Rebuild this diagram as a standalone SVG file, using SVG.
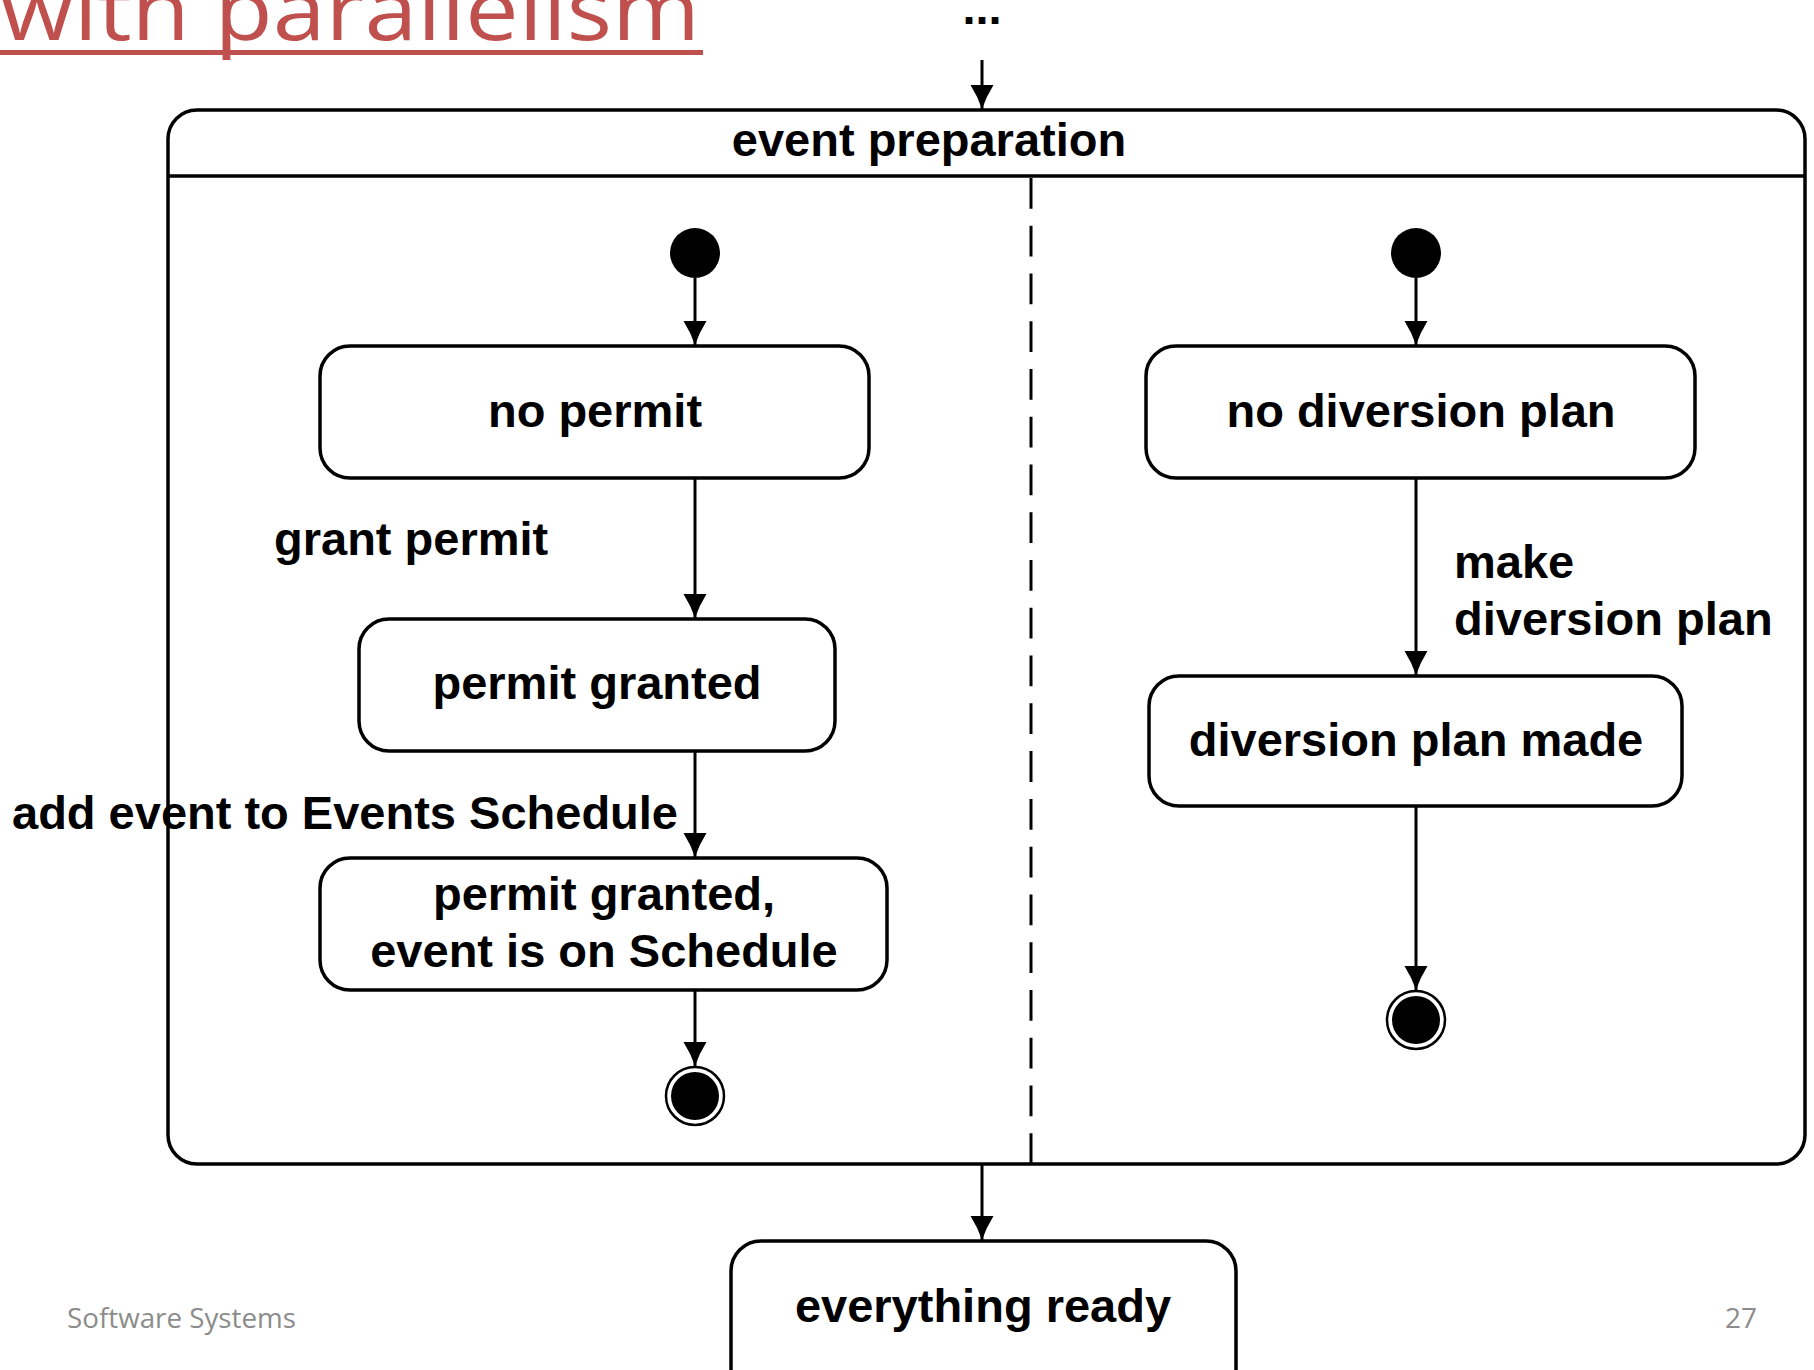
<svg xmlns="http://www.w3.org/2000/svg" width="1814" height="1370" viewBox="0 0 1814 1370">
  <style>
    .state { fill: #ffffff; stroke: #000000; stroke-width: 3.5; }
    .lbl { font-family: "Liberation Sans", Arial, sans-serif; font-weight: bold; font-size: 47px; fill: #000000; }
    .mid { text-anchor: middle; }
    .edge { stroke: #000000; stroke-width: 3; fill: none; marker-end: url(#arrow); }
    .foot { font-family: "Open Sans", "Liberation Sans", sans-serif; font-size: 28px; fill: #8c8c8c; }
  </style>
  <defs>
    <marker id="arrow" markerUnits="userSpaceOnUse" viewBox="0 -13 25 26" markerWidth="25" markerHeight="26" refX="24" refY="0" orient="auto">
      <path d="M0,-11.5 Q12,-4 24,0 Q12,4 0,11.5 z" fill="#000000"/>
    </marker>
  </defs>

  <rect width="1814" height="1370" fill="#ffffff"/>

  <!-- slide title (partly above the page edge) -->
  <g id="title">
    <text x="0" y="40" font-family="Open Sans, Liberation Sans, sans-serif" font-size="84" fill="#C0504D" textLength="700" lengthAdjust="spacingAndGlyphs">with parallelism</text>
    <rect x="0" y="50" width="703" height="5" fill="#C0504D"/>
  </g>

  <!-- incoming ellipsis -->
  <g id="ellipsis">
    <text class="lbl mid" x="982" y="24">...</text>
  </g>

  <!-- composite state with two concurrent regions -->
  <g id="event-preparation">
    <rect class="state" x="168" y="110" width="1637" height="1054" rx="29" ry="29"/>
    <line x1="168" y1="176" x2="1805" y2="176" stroke="#000000" stroke-width="3.5"/>
    <text class="lbl mid" x="929" y="156">event preparation</text>
    <line x1="1031" y1="178" x2="1031" y2="1164" stroke="#000000" stroke-width="3" stroke-dasharray="30.76 17"/>
  </g>

  <!-- left region -->
  <g id="left-initial">
    <circle cx="695" cy="253" r="25" fill="#000000"/>
  </g>
  <g id="no-permit">
    <rect class="state" x="320" y="346" width="549" height="132" rx="30" ry="30"/>
    <text class="lbl mid" x="595" y="427">no permit</text>
  </g>
  <g id="permit-granted">
    <rect class="state" x="359" y="619" width="476" height="132" rx="30" ry="30"/>
    <text class="lbl mid" x="597" y="699">permit granted</text>
  </g>
  <g id="permit-on-schedule">
    <rect class="state" x="320" y="858" width="567" height="132" rx="30" ry="30"/>
    <text class="lbl mid" x="604" y="910">permit granted,</text>
    <text class="lbl mid" x="604" y="967">event is on Schedule</text>
  </g>
  <g id="left-final">
    <circle cx="695" cy="1096" r="29" fill="#ffffff" stroke="#000000" stroke-width="2.5"/>
    <circle cx="695" cy="1096" r="24" fill="#000000"/>
  </g>

  <!-- right region -->
  <g id="right-initial">
    <circle cx="1416" cy="253" r="25" fill="#000000"/>
  </g>
  <g id="no-diversion-plan">
    <rect class="state" x="1146" y="346" width="549" height="132" rx="30" ry="30"/>
    <text class="lbl mid" x="1421" y="427">no diversion plan</text>
  </g>
  <g id="diversion-plan-made">
    <rect class="state" x="1149" y="676" width="533" height="130" rx="30" ry="30"/>
    <text class="lbl mid" x="1416" y="756">diversion plan made</text>
  </g>
  <g id="right-final">
    <circle cx="1416" cy="1020" r="29" fill="#ffffff" stroke="#000000" stroke-width="2.5"/>
    <circle cx="1416" cy="1020" r="24" fill="#000000"/>
  </g>

  <!-- following state -->
  <g id="everything-ready">
    <rect class="state" x="731" y="1241" width="505" height="180" rx="30" ry="30"/>
    <text class="lbl mid" x="983" y="1322">everything ready</text>
  </g>

  <!-- transitions -->
  <g id="connectors">
    <line class="edge" x1="982" y1="60" x2="982" y2="109"/>
    <line class="edge" x1="695" y1="278" x2="695" y2="345"/>
    <line class="edge" x1="695" y1="478" x2="695" y2="618"/>
    <line class="edge" x1="695" y1="751" x2="695" y2="857"/>
    <line class="edge" x1="695" y1="990" x2="695" y2="1066"/>
    <line class="edge" x1="1416" y1="278" x2="1416" y2="345"/>
    <line class="edge" x1="1416" y1="478" x2="1416" y2="675"/>
    <line class="edge" x1="1416" y1="806" x2="1416" y2="990"/>
    <line class="edge" x1="982" y1="1164" x2="982" y2="1240"/>
    <text class="lbl" x="274" y="555">grant permit</text>
    <text class="lbl" x="12" y="829">add event to Events Schedule</text>
    <text class="lbl" x="1454" y="578">make</text>
    <text class="lbl" x="1454" y="635">diversion plan</text>
  </g>

  <!-- footer -->
  <g id="footer">
    <text class="foot" x="67" y="1328" textLength="229" lengthAdjust="spacingAndGlyphs">Software Systems</text>
    <text class="foot" x="1757" y="1328" text-anchor="end">27</text>
  </g>
</svg>
